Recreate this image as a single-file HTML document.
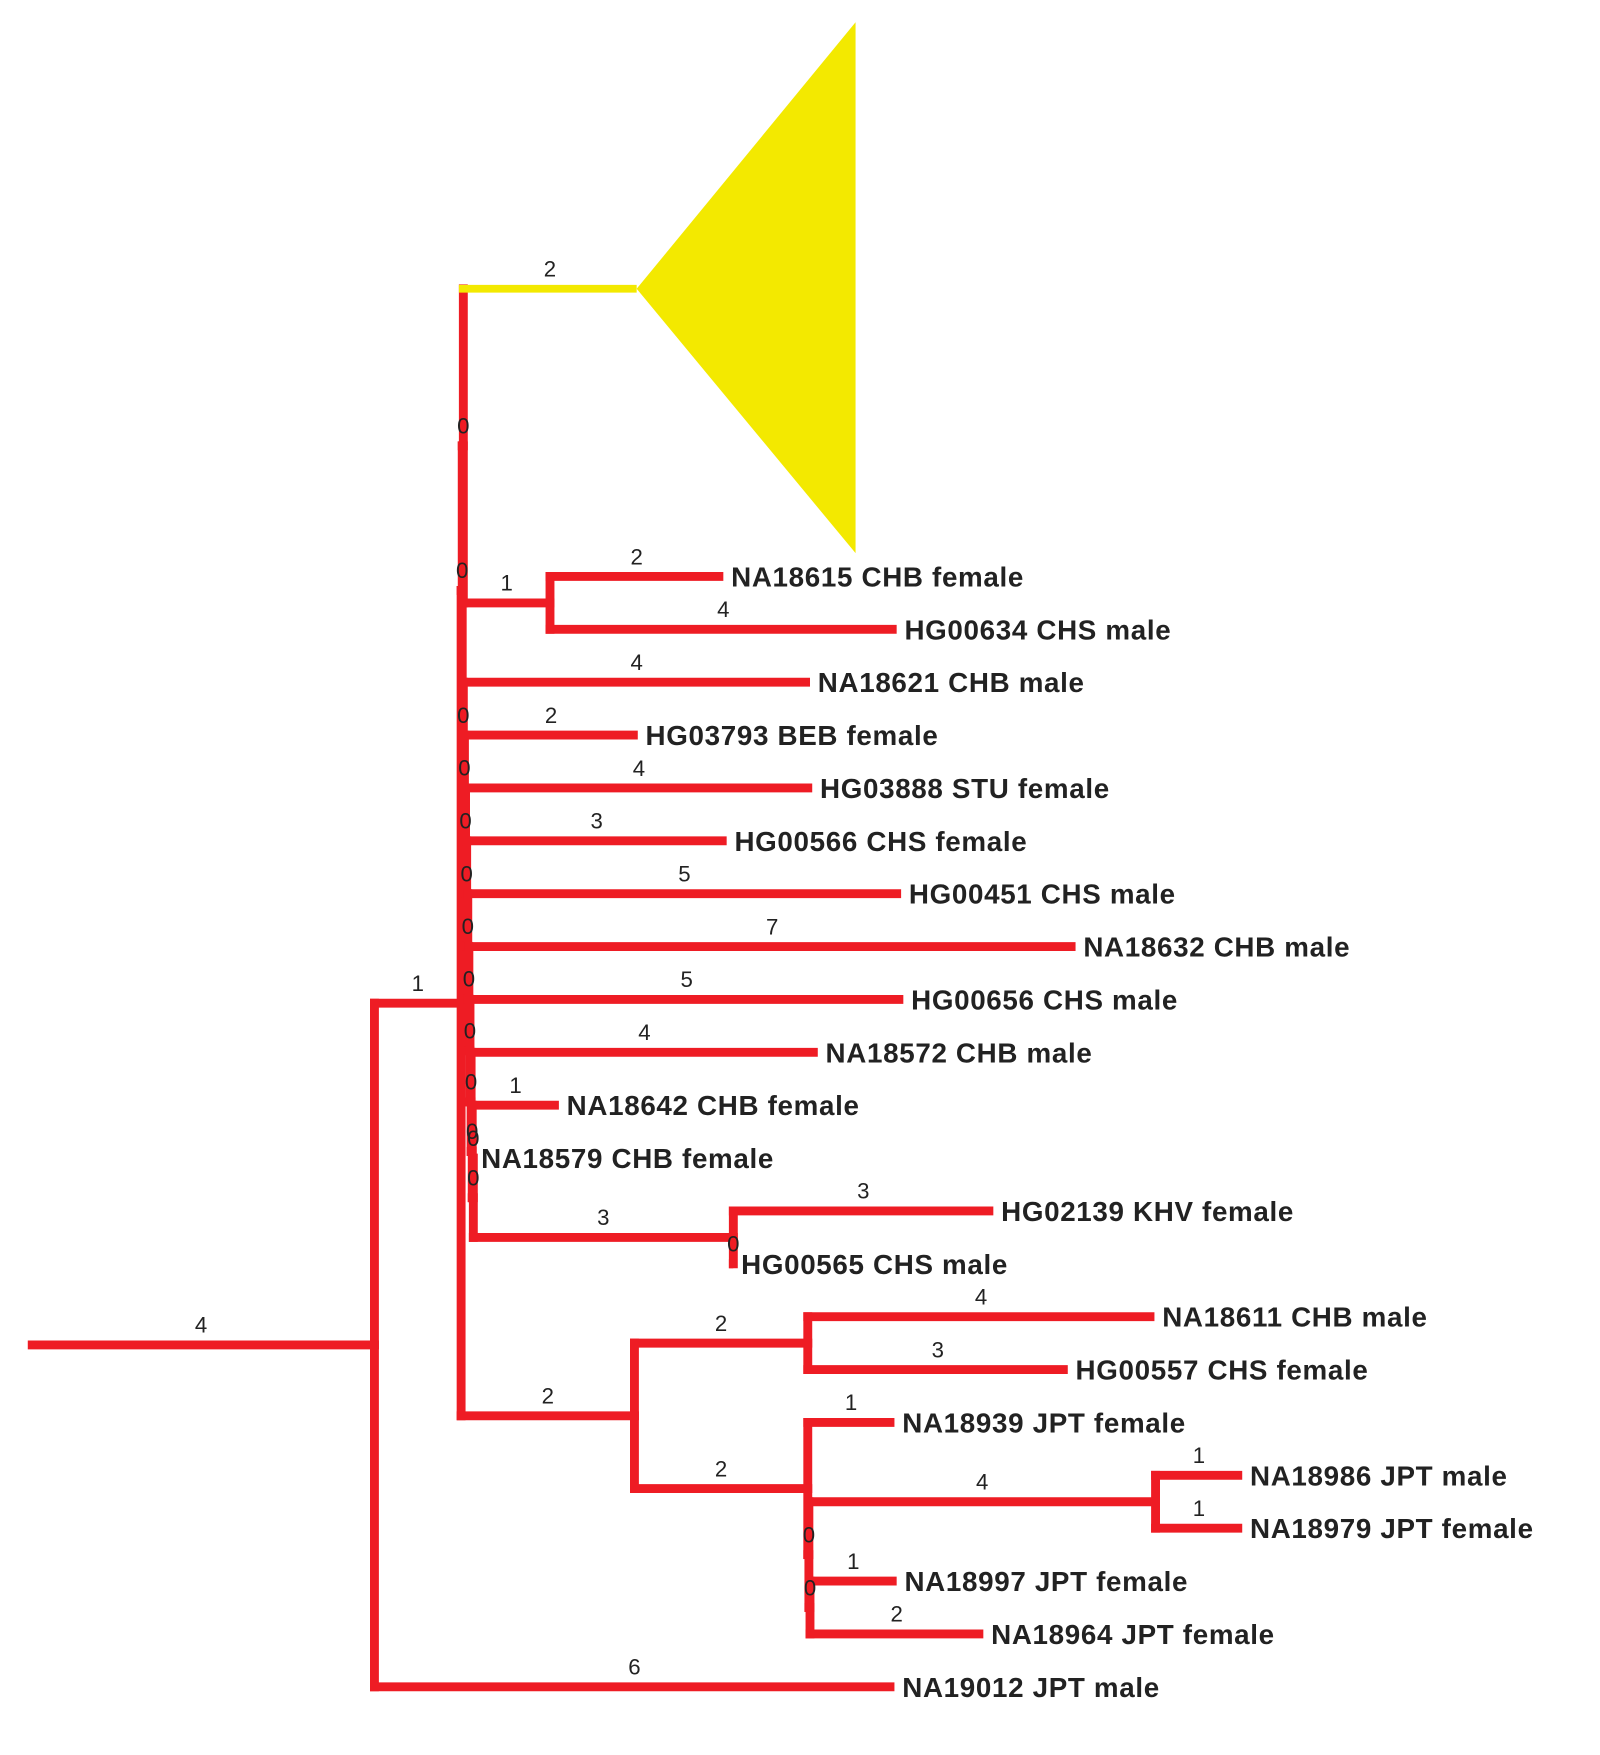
<!DOCTYPE html>
<html><head><meta charset="utf-8"><style>
html,body{margin:0;padding:0;background:#fff;}
svg{display:block;}
</style></head><body>
<svg id="tree" xmlns="http://www.w3.org/2000/svg" width="1600" height="1755" viewBox="0 0 1440 1580" preserveAspectRatio="none"></svg>
<script>
const nodeNames=["A","B","C","E","clade","G","NA18615 CHB female","HG00634 CHS male","L1","NA18621 CHB male","L2","HG03793 BEB female","L3","HG03888 STU female","L4","HG00566 CHS female","L5","HG00451 CHS male","L6","NA18632 CHB male","L7","HG00656 CHS male","L8","NA18572 CHB male","L9","NA18642 CHB female","L10","NA18579 CHB female","H","HG02139 KHV female","HG00565 CHS male","D","I","NA18611 CHB male","HG00557 CHS female","J","NA18939 JPT female","J2","K","NA18986 JPT male","NA18979 JPT female","J3","NA18997 JPT female","NA18964 JPT female","NA19012 JPT male"];
const nodeParents=[-1,0,1,2,3,3,5,5,2,8,8,10,10,12,12,14,14,16,16,18,18,20,20,22,22,24,24,26,26,28,28,1,31,32,32,31,35,35,37,38,38,37,41,41,0];
const branchLengths=[4,1,0,0,2,1,2,4,0,4,0,2,0,4,0,3,0,5,0,7,0,5,0,4,0,1,0,0,3,3,0,2,2,4,3,2,1,0,4,1,1,0,1,2,6];
const collapsedClade=4;
const NS="http://www.w3.org/2000/svg";
const svg=document.getElementById('tree');
const X0=25, UNIT=78, ZERO_OFF=1, ROW0=519, ROWH=47.6, CLADE_Y=260, CLADE_TOP=20, CLADE_BOT=498, CLADE_RIGHT=770;
const RED="#ee1c24", YEL="#f3e900";
const n=nodeNames.length;
const children=nodeNames.map(()=>[]);
nodeParents.forEach((p,i)=>{if(p>=0)children[p].push(i);});
const xs=new Array(n), xstart=new Array(n), ys=new Array(n);
function xScale(len){return len===0?ZERO_OFF:len*UNIT;}
for(let i=0;i<n;i++){
  const p=nodeParents[i];
  xstart[i]=p<0?X0:xs[p];
  const isLeaf=children[i].length===0&&i!==collapsedClade;
  xs[i]=xstart[i]+(isLeaf&&branchLengths[i]===0?0:xScale(branchLengths[i]));
}
let row=0;
function setY(i){
  if(i===collapsedClade){ys[i]=CLADE_Y;return;}
  if(children[i].length===0){ys[i]=ROW0+row*ROWH;row++;return;}
  children[i].forEach(setY);
  const c=children[i];
  ys[i]=(ys[c[0]]+ys[c[c.length-1]])/2;
}
setY(0);
function el(tag,attrs,parent){const e=document.createElementNS(NS,tag);for(const k in attrs)e.setAttribute(k,attrs[k]);(parent||svg).appendChild(e);return e;}
const gB=el('g',{});


const gT=el('g',{});


const tri=el('polygon',{points:`${xs[collapsedClade]},${CLADE_Y} ${CLADE_RIGHT},${CLADE_TOP} ${CLADE_RIGHT},${CLADE_BOT}`,fill:YEL},gB);


for(let i=0;i<n;i++){
  const col=i===collapsedClade?YEL:RED;
  const h=el('line',{x1:xstart[i]-(nodeParents[i]<0?0:4),y1:ys[i],x2:xs[i]+(children[i].length>0&&i!==collapsedClade?4:0),y2:ys[i],stroke:col,'stroke-width':i===collapsedClade?7:8},gB);
  
  
  if(children[i].length>0&&i!==collapsedClade){
    const c=children[i];
    const v=el('line',{x1:xs[i],y1:ys[c[0]]-4,x2:xs[i],y2:ys[c[c.length-1]]+4,stroke:RED,'stroke-width':8},gB);
    
    
  }
  const len=branchLengths[i];
  let lx=len===0?xs[i]:(xstart[i]+xs[i])/2, ly=ys[i]-11;
  const t=el('text',{x:lx,y:ly,'text-anchor':'middle','font-size':20,'font-family':'"Liberation Sans",sans-serif',fill:'#222'},gT);
  t.textContent=String(len);
  
  
  if(children[i].length===0&&i!==collapsedClade){
    const lt=el('text',{x:xs[i]+7,y:ys[i]+9,'font-size':25,'font-weight':'bold','letter-spacing':'0.6','font-family':'"Liberation Sans",sans-serif',fill:'#222'},gT);
    lt.textContent=nodeNames[i];
    
    
  }
}
</script>
</body></html>
